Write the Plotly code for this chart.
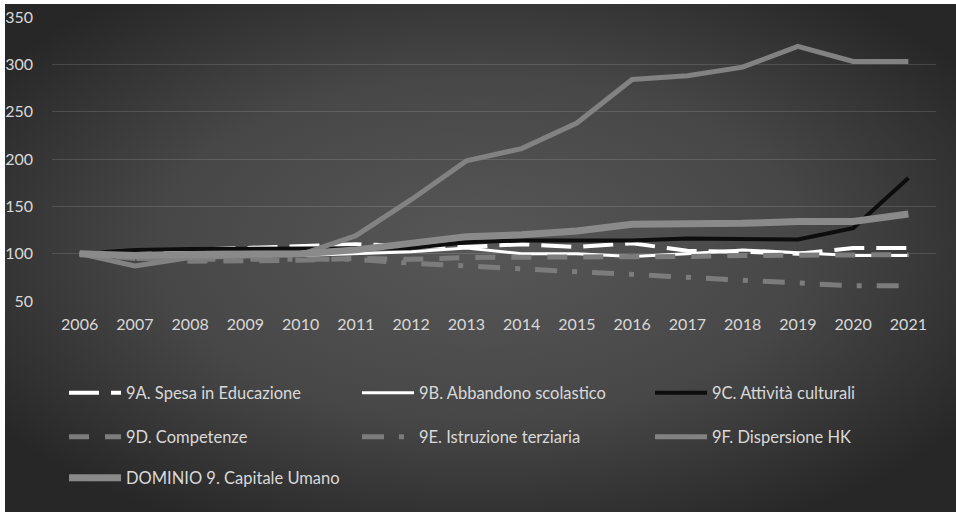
import base64
import plotly.graph_objects as go

years = [str(y) for y in range(2006, 2022)]

spesa_educazione = [100, 103, 104, 106, 107, 110, 108, 107, 110, 107, 111, 103, 102, 100, 106, 106]
abbandono_scolastico = [100, 99, 99, 99, 98, 100, 102, 106, 100, 100, 97, 100, 104, 101, 98, 98]
attivita_culturali = [100, 104, 105, 105, 106, 105, 106, 112, 114, 114, 114, 116, 115, 115, 127, 180]
competenze = [100, 95, 92, 92, 93, 95, 94, 96, 96, 96, 96, 97, 98, 98, 99, 99]
istruzione_terziaria = [100, 95, 94, 94, 95, 94, 90, 87, 83, 80, 78, 74, 71, 69, 66, 66]
dispersione_hk = [100, 87, 96, 97, 99, 119, 157, 198, 211, 238, 284, 288, 297, 319, 303, 303]
dominio_9 = [100, 98, 99, 99, 100, 104, 111, 118, 120, 124, 131, 131, 132, 134, 134, 142]

names = ["9A. Spesa in Educazione", "9B. Abbandono scolastico", "9C. Attività culturali",
         "9D. Competenze", "9E. Istruzione terziaria", "9F. Dispersione HK",
         "DOMINIO 9. Capitale Umano"]
series = [spesa_educazione, abbandono_scolastico, attivita_culturali, competenze,
          istruzione_terziaria, dispersione_hk, dominio_9]
styles = [
    dict(color="#ffffff", width=4, dash="30px,12px"),
    dict(color="#ffffff", width=3),
    dict(color="#0d0d0d", width=4),
    dict(color="#7c7c7c", width=5, dash="20px,16px"),
    dict(color="#7c7c7c", width=5, dash="22px,15px,5px,15px"),
    dict(color="#828282", width=5),
    dict(color="#8a8a8a", width=7),
]
legends = ["legend", "legend", "legend", "legend2", "legend2", "legend2", "legend3"]

fig = go.Figure()
for n, s, st, lg in zip(names, series, styles, legends):
    fig.add_trace(go.Scatter(x=years, y=s, name=n, mode="lines", line=st, legend=lg))

svg = ("<svg xmlns='http://www.w3.org/2000/svg' width='951' height='508'>"
       "<defs><radialGradient id='g' cx='50%' cy='48%' r='62%'>"
       "<stop offset='0' stop-color='#575757'/><stop offset='0.55' stop-color='#474747'/>"
       "<stop offset='1' stop-color='#272727'/></radialGradient></defs>"
       "<rect width='951' height='508' fill='url(#g)'/></svg>")
uri = "data:image/svg+xml;base64," + base64.b64encode(svg.encode()).decode()

W, H = 956, 512
ml, mr, mt, mb = 52, 20, 17, 211
pw, ph = W - ml - mr, H - mt - mb

def px(xp):
    return (xp - ml) / pw

def py(yp):
    return (H - mb - yp) / ph

font_color = "#d9d9d9"
leg_common = dict(orientation="h", xanchor="left", yanchor="middle", bgcolor="rgba(0,0,0,0)",
                  font=dict(family="Lato", size=16.5, color=font_color),
                  entrywidth=226, entrywidthmode="pixels", itemwidth=52)

fig.update_layout(
    width=W, height=H,
    margin=dict(l=ml, r=mr, t=mt, b=mb, autoexpand=False),
    paper_bgcolor="#ffffff",
    plot_bgcolor="rgba(0,0,0,0)",
    images=[dict(source=uri, xref="paper", yref="paper", x=px(5), y=py(4),
                 sizex=(W - 5) / pw, sizey=(H - 4) / ph, xanchor="left", yanchor="top",
                 sizing="stretch", layer="below")],
    xaxis=dict(type="category", range=[-0.5, 15.5], showgrid=False, zeroline=False, showline=False,
               tickfont=dict(family="Lato", size=16, color=font_color), ticklabelstandoff=12),
    yaxis=dict(range=[50, 350], dtick=50, tick0=50, showgrid=True,
               gridcolor="rgba(255,255,255,0.13)", gridwidth=1, zeroline=False, showline=False,
               tickfont=dict(family="Lato", size=16, color=font_color), ticklabelstandoff=18),
    legend=dict(x=px(64), y=py(393), **leg_common),
    legend2=dict(x=px(64), y=py(437), **leg_common),
    legend3=dict(x=px(64), y=py(478), **leg_common),
    showlegend=True,
)

fig.write_html("out.html", config={"displayModeBar": False},
               post_script="document.body.style.margin='0';document.body.style.overflow='hidden';")
